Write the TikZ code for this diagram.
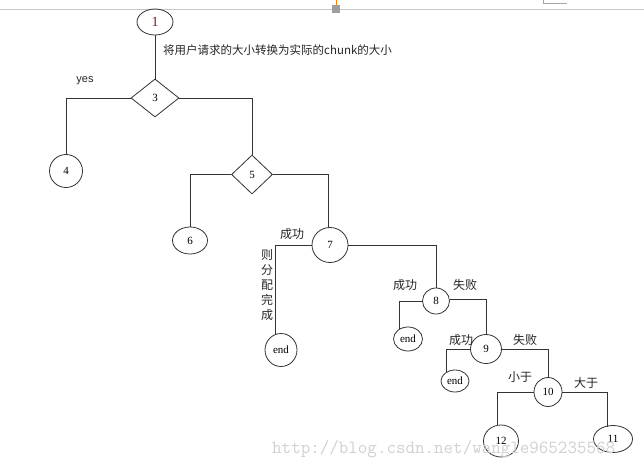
\documentclass[tikz,border=0pt]{standalone}
\usepackage{fontspec}
\setmainfont{Liberation Serif}
\setsansfont{Liberation Sans}
\newfontfamily\cjk{Noto Sans CJK SC}
\usetikzlibrary{shapes.geometric}
\definecolor{linec}{HTML}{333333}
\definecolor{onecol}{HTML}{7A1F1F}
\begin{document}
\begin{tikzpicture}[x=1pt,y=-1pt,
  ln/.style={draw=linec,line width=0.8pt},
  circ/.style={ellipse,ln,inner sep=0pt,font=\fontsize{11}{11}\selectfont},
  dia/.style={diamond,ln,inner sep=0pt,font=\fontsize{11}{11}\selectfont},
  lab/.style={font=\cjk\fontsize{12}{12}\selectfont,inner sep=0pt,text=black!85}]
\fill[white] (0,0) rectangle (644,470);
\useasboundingbox (0,0) rectangle (644,470);
% screenshot frame
\draw[black!22,line width=0.8pt] (0,9) -- (644,9);
\fill[black!38] (332,5) rectangle (340,13);
\draw[orange,line width=0.8pt] (336.5,0) -- (336.5,5);
\draw[black!35,line width=0.8pt] (543.5,0) -- (543.5,3.5) -- (567,3.5);
% nodes
\node[circ,minimum width=36,minimum height=26,font=\fontsize{14}{14}\selectfont,text=onecol] (n1) at (155,22) {1};
\node[dia,minimum width=48,minimum height=38] (d3) at (155,98) {3};
\node[circ,minimum width=33,minimum height=33] (n4) at (66,171) {4};
\node[dia,minimum width=41,minimum height=39] (d5) at (252,174.5) {5};
\node[circ,minimum width=35,minimum height=27] (n6) at (190,240.5) {6};
\node[circ,minimum width=36,minimum height=35] (n7) at (330,245) {7};
\node[circ,minimum width=32,minimum height=33] (e1) at (281,350) {end};
\node[circ,minimum width=27,minimum height=26] (n8) at (436,301) {8};
\node[circ,minimum width=29,minimum height=24] (e2) at (408,339) {end};
\node[circ,minimum width=31,minimum height=29] (n9) at (486,349) {9};
\node[circ,minimum width=28,minimum height=22] (e3) at (455,381) {end};
\node[circ,minimum width=28,minimum height=29] (n10) at (548,392) {10};
\node[circ,minimum width=35,minimum height=32] (n12) at (501,441) {12};
\node[circ,minimum width=39,minimum height=27] (n11) at (613,439) {11};
% connectors
\draw[ln] (n1.south) -- (d3.north);
\draw[ln] (d3.west) -| (n4.north);
\draw[ln] (d3.east) -| (d5.north);
\draw[ln] (d5.west) -| (n6.north);
\draw[ln] (d5.east) -| ([xshift=-2pt]n7.north);
\draw[ln] (n7.west) -| ([xshift=-6pt,yshift=-1pt]e1.north);
\draw[ln] (n7.east) -| (n8.north);
\draw[ln] (n8.west) -| ([xshift=-9pt,yshift=-2.5pt]e2.north);
\draw[ln] ([yshift=2pt]n8.east) -| (n9.north);
\draw[ln] (n9.west) -| ([xshift=-9pt,yshift=-2.5pt]e3.north);
\draw[ln] (n9.east) -| (n10.north);
\draw[ln] (n10.west) -| ([xshift=-4pt]n12.north);
\draw[ln] (n10.east) -| ([xshift=-6pt,yshift=-1.5pt]n11.north);
% labels
\node[lab,anchor=west,font=\cjk\fontsize{11.5}{11.5}\selectfont] (t1) at (163,50) {将用户请求的大小转换为实际的chunk的大小};
\node[inner sep=0pt,font=\sffamily\fontsize{11}{11}\selectfont,text=black!85] (tyes) at (85,81) {yes};
\node[lab] (s7) at (292,234) {成功};
\node[lab,align=center,font=\cjk\fontsize{12}{15}\selectfont] (v7) at (267,285) {则\\分\\配\\完\\成};
\node[lab] (s8) at (405,285) {成功};
\node[lab] (f8) at (465,285) {失败};
\node[lab] (s9) at (461,340) {成功};
\node[lab] (f9) at (525,340) {失败};
\node[lab] (lt) at (520,377) {小于};
\node[lab] (gt) at (586,383) {大于};
% watermark
\node[inner sep=0pt,anchor=west,text=black!18,font=\ttfamily\fontsize{18.5}{18.5}\selectfont] (wm) at (272,449) {http://blog.csdn.net/wangle965235568};
\end{tikzpicture}
\end{document}
